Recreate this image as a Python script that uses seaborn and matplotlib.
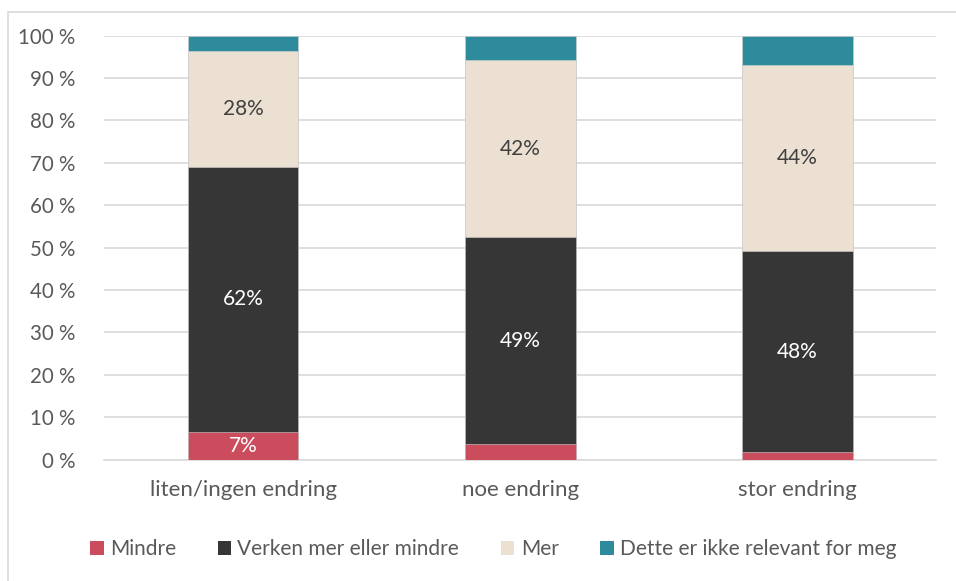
import matplotlib
matplotlib.use("Agg")
import matplotlib.pyplot as plt
import seaborn as sns
import numpy as np
import pandas as pd
from matplotlib.patches import Rectangle, Patch

categories = ["liten/ingen endring", "noe endring", "stor endring"]
series_names = ["Mindre", "Verken mer eller mindre", "Mer", "Dette er ikke relevant for meg"]
mindre = [6.6, 3.6, 1.7]
verken = [62.4, 48.9, 47.5]
mer = [27.5, 41.7, 44.0]
ikke_relevant = [3.5, 5.8, 6.8]
yticks = [0, 10, 20, 30, 40, 50, 60, 70, 80, 90, 100]

colors = ["#CB4C5C", "#363636", "#EBE0D1", "#2E8B9C"]

sns.set_theme(style="white")
plt.rcParams["font.family"] = ["Lato", "DejaVu Sans"]

df = pd.DataFrame({"kategori": categories, "Mindre": mindre, "Verken": verken,
                   "Mer": mer, "Ikke": ikke_relevant})
series_cols = ["Mindre", "Verken", "Mer", "Ikke"]
cum = df[series_cols].cumsum(axis=1)

fig = plt.figure(figsize=(9.56, 5.81), dpi=100)
ax = fig.add_axes([0.1093, 0.2089, 0.979 - 0.1093, 0.9386 - 0.2089])

# stacked bars: draw cumulative totals from the top segment down
for col, color in reversed(list(zip(series_cols, colors))):
    sns.barplot(data=cum.assign(kategori=df["kategori"]), x="kategori", y=col,
                color=color, width=0.4, ax=ax, saturation=1,
                edgecolor="#d0d0d0", linewidth=0.4, zorder=3)

ax.set_ylim(0, 100)
ax.set_xlim(-0.5, 2.5)
ax.set_yticks(yticks)
ax.set_yticklabels([f"{t} %" for t in yticks])
ax.set_xlabel("")
ax.set_ylabel("")
ax.yaxis.grid(True, color="#D9D9D9", linewidth=1.2, zorder=0)
ax.set_axisbelow(True)
for s in ["top", "right", "left"]:
    ax.spines[s].set_visible(False)
ax.spines["bottom"].set_color("#D9D9D9")
ax.spines["bottom"].set_linewidth(1.2)
ax.tick_params(axis="y", length=0, pad=21, labelsize=14.8, labelcolor="#595959")
ax.tick_params(axis="x", length=0, pad=15, labelsize=16, labelcolor="#595959")

# value labels
label_specs = [("Mindre", mindre, "white", 0), ("Verken", verken, "white", 1),
               ("Mer", mer, "#404040", 2)]
for col, vals, tc, idx in label_specs:
    for i, v in enumerate(vals):
        if v < 5:
            continue
        bottom = cum.iloc[i, idx] - v
        ax.text(i, bottom + v / 2, f"{round(v):.0f}%", ha="center", va="center",
                color=tc, fontsize=15, zorder=5)

handles = [Patch(facecolor=c, edgecolor="none") for c in colors]
fig.legend(handles, series_names, loc="center", bbox_to_anchor=(0.516, 0.055),
           ncol=4, frameon=False, fontsize=15, handlelength=0.65, handleheight=0.65,
           handletextpad=0.3, columnspacing=2.0, labelcolor="#595959")

# outer chart border
fig.patches.append(Rectangle((8 / 956, -0.1), 1.2, 1 - 12 / 581 + 0.1,
                             transform=fig.transFigure, fill=False,
                             edgecolor="#D9D9D9", linewidth=1.2))

fig.savefig("out.png", dpi=100)
